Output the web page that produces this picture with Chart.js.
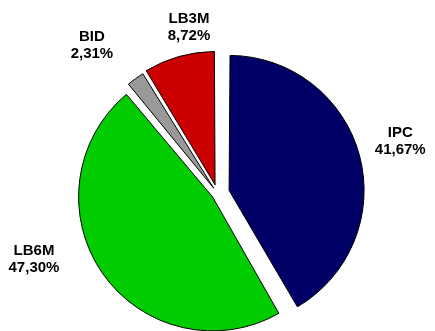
<!DOCTYPE html>
<html>
<head>
<meta charset="utf-8">
<script src="https://cdn.jsdelivr.net/npm/chart.js@4"></script>
<style>
  html, body { margin: 0; padding: 0; background: #ffffff; }
  #wrap { width: 435px; height: 331px; }
</style>
</head>
<body>
<div id="wrap"><canvas id="pieChart" width="435" height="331"></canvas></div>
<script>
const categories = ['IPC', 'LB6M', 'BID', 'LB3M'];
const shares = [41.67, 47.30, 2.31, 8.72];
const shareLabels = ['41,67%', '47,30%', '2,31%', '8,72%'];

const sliceColors = ['#000066', '#00CC00', '#999999', '#CC0000'];
const sliceOffsets = [48, 24, 26, 36]; // chart.js moves a slice by offset / 4
// label placement: angle nudge from slice middle (deg) and distance from centre (px)
const labelLayout = [
    { nudge: -0.9, dist: 190 },
    { nudge: 15.1, dist: 195 },
    { nudge: -4.8, dist: 194 },
    { nudge: 6.0, dist: 169 }
];

const pieLabels = {
    id: 'pieLabels',
    afterDatasetsDraw(chart) {
        const ctx = chart.ctx;
        const arcs = chart.getDatasetMeta(0).data;
        ctx.save();
        ctx.fillStyle = '#000000';
        ctx.font = 'bold 15px "Liberation Sans", Arial, sans-serif';
        ctx.textAlign = 'center';
        ctx.textBaseline = 'middle';
        arcs.forEach((arc, i) => {
            const mid = (arc.startAngle + arc.endAngle) / 2 + labelLayout[i].nudge * Math.PI / 180;
            const x = arc.x + Math.cos(mid) * labelLayout[i].dist;
            const y = arc.y + Math.sin(mid) * labelLayout[i].dist;
            ctx.fillText(categories[i], x, y - 8.5);
            ctx.fillText(shareLabels[i], x, y + 8.5);
        });
        ctx.restore();
    }
};

new Chart(document.getElementById('pieChart').getContext('2d'), {
    type: 'pie',
    data: {
        labels: categories,
        datasets: [{
            data: shares,
            backgroundColor: sliceColors,
            borderColor: '#000000',
            borderWidth: 1,
            offset: sliceOffsets,
            radius: 129
        }]
    },
    options: {
        responsive: false,
        animation: false,
        layout: { padding: { left: 0, right: 0, top: 56, bottom: 0 } },
        plugins: {
            legend: { display: false },
            tooltip: { enabled: false }
        }
    },
    plugins: [pieLabels]
});
</script>
</body>
</html>
